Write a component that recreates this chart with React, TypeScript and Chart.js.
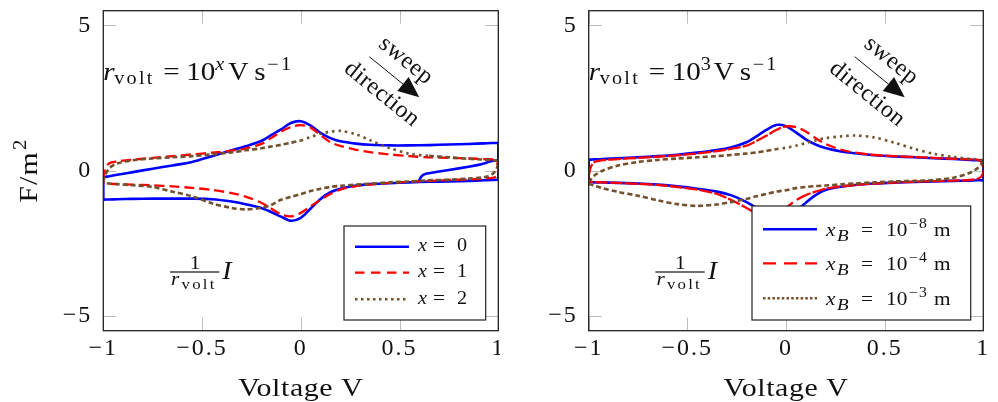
import { useEffect, useRef } from 'react';
import { Chart, registerables } from 'chart.js';

Chart.register(...registerables);

const SERIF = '"Liberation Serif", "Times New Roman", serif';
const BLUE = '#0000ff';
const RED = '#ff0000';
const BROWN = '#74512d';
const INK = '#111111';

// Voltage samples of one sweep (ascending). Reverse sweeps are stored on the same grid.
const sweepV = [-1, -0.99, -0.97, -0.93, -0.85, -0.75, -0.65, -0.55, -0.45, -0.35, -0.28, -0.2, -0.15, -0.1, -0.05, 0, 0.05, 0.1, 0.15, 0.2, 0.28, 0.35, 0.45, 0.55, 0.65, 0.75, 0.85, 0.93, 0.97, 0.99, 1];

const voltageTicks = [-1, -0.5, 0, 0.5, 1];
const currentTicks = [-5, 0, 5];
const currentMin = -5.5;
const currentMax = 5.5;

// Left panel: r_volt = 10^x V/s
const x0Forward = [-0.22, -0.21, -0.19, -0.14, -0.05, 0.07, 0.18, 0.3, 0.5, 0.7, 0.84, 1.02, 1.22, 1.42, 1.64, 1.7, 1.55, 1.3, 1.12, 1.01, 0.93, 0.89, 0.87, 0.87, 0.88, 0.9, 0.92, 0.94, 0.95, 0.95, 0.95];
const x0Reverse = [-0.99, -0.99, -0.99, -0.98, -0.97, -0.96, -0.96, -0.96, -0.98, -1.06, -1.15, -1.28, -1.42, -1.58, -1.72, -1.62, -1.3, -0.97, -0.74, -0.62, -0.51, -0.46, -0.43, -0.4, -0.38, -0.37, -0.35, -0.33, -0.32, -0.31, -0.31];
const x0StartV = [0.59, 0.6, 0.61, 0.63, 0.7, 0.8, 0.9, 1];
const x0StartI = [-0.39, -0.33, -0.2, -0.11, -0.03, 0.08, 0.2, 0.33];
const x1Forward = [-0.3, 0.08, 0.26, 0.32, 0.38, 0.44, 0.5, 0.56, 0.62, 0.69, 0.76, 0.92, 1.12, 1.34, 1.5, 1.57, 1.48, 1.22, 0.98, 0.85, 0.72, 0.64, 0.56, 0.5, 0.46, 0.44, 0.42, 0.4, 0.39, 0.32, 0.12];
const x1Reverse = [-0.43, -0.44, -0.45, -0.46, -0.48, -0.5, -0.54, -0.59, -0.66, -0.77, -0.89, -1.1, -1.3, -1.5, -1.57, -1.45, -1.22, -1.0, -0.8, -0.65, -0.53, -0.48, -0.42, -0.38, -0.35, -0.32, -0.3, -0.27, -0.25, -0.2, -0.02];
const x2Forward = [-0.38, -0.15, 0.08, 0.25, 0.36, 0.42, 0.46, 0.5, 0.56, 0.63, 0.7, 0.77, 0.83, 0.89, 0.96, 1.04, 1.16, 1.27, 1.34, 1.37, 1.25, 1.05, 0.78, 0.58, 0.51, 0.46, 0.41, 0.38, 0.36, 0.34, 0.32];
const x2Reverse = [-0.4, -0.42, -0.44, -0.46, -0.5, -0.56, -0.72, -0.88, -1.12, -1.28, -1.33, -1.28, -1.18, -1.0, -0.9, -0.8, -0.7, -0.62, -0.56, -0.52, -0.48, -0.45, -0.4, -0.37, -0.33, -0.31, -0.27, -0.22, -0.12, 0.05, 0.25];
const rateExponents = ['0', '1', '2'];

// Right panel: r_volt = 10^3 V/s, boundary position x_B
const b8Forward = [0.38, 0.38, 0.39, 0.4, 0.43, 0.46, 0.5, 0.55, 0.62, 0.71, 0.8, 0.98, 1.18, 1.4, 1.57, 1.53, 1.32, 1.08, 0.9, 0.78, 0.66, 0.6, 0.53, 0.49, 0.46, 0.43, 0.4, 0.37, 0.36, 0.35, 0.35];
const b8Reverse = [-0.39, -0.39, -0.4, -0.4, -0.42, -0.44, -0.48, -0.54, -0.62, -0.72, -0.84, -1.08, -1.28, -1.5, -1.65, -1.58, -1.4, -1.1, -0.84, -0.66, -0.55, -0.49, -0.44, -0.41, -0.39, -0.37, -0.35, -0.34, -0.33, -0.33, -0.33];
const b4Forward = [-0.2, 0.12, 0.3, 0.36, 0.4, 0.44, 0.48, 0.53, 0.59, 0.67, 0.75, 0.86, 1.02, 1.2, 1.4, 1.52, 1.5, 1.35, 1.12, 0.92, 0.72, 0.62, 0.54, 0.5, 0.47, 0.44, 0.41, 0.39, 0.38, 0.3, 0.1];
const b4Reverse = [-0.38, -0.38, -0.39, -0.4, -0.42, -0.45, -0.49, -0.56, -0.65, -0.8, -1.0, -1.28, -1.48, -1.63, -1.55, -1.28, -1.02, -0.84, -0.72, -0.62, -0.54, -0.49, -0.44, -0.41, -0.38, -0.36, -0.34, -0.32, -0.28, -0.2, -0.05];
const b3Forward = [-0.4, -0.3, -0.16, 0.0, 0.18, 0.3, 0.37, 0.42, 0.46, 0.5, 0.54, 0.59, 0.63, 0.68, 0.74, 0.79, 0.86, 0.95, 1.04, 1.12, 1.18, 1.21, 1.14, 0.96, 0.75, 0.58, 0.47, 0.41, 0.39, 0.37, 0.33];
const b3Reverse = [-0.45, -0.47, -0.52, -0.6, -0.73, -0.86, -1.02, -1.15, -1.21, -1.16, -1.08, -0.97, -0.88, -0.8, -0.72, -0.67, -0.6, -0.56, -0.53, -0.51, -0.47, -0.44, -0.4, -0.37, -0.35, -0.32, -0.24, -0.08, 0.08, 0.22, 0.3];
const boundaryExponents = ['−8', '−4', '−3'];

type Pt = { x: number; y: number };
type Run = { t: string; dx: number; size: number; it?: boolean; dy?: number; ls?: number };

const nFwd = sweepV.length;
const branch = (vals: number[]): Pt[] => sweepV.map((v, i) => ({ x: v, y: vals[i] }));

// forward sweep, then reverse sweep, back to the start
function closedCycle(fwd: number[], rev: number[]): Pt[] {
  const up = branch(fwd);
  const down = branch(rev).reverse();
  return [...up, ...down, up[0]];
}

// first partial scan from the starting potential, then the full cycle
function cycleWithStart(startV: number[], startI: number[], fwd: number[], rev: number[]): Pt[] {
  const start = startV.map((v, i) => ({ x: v, y: startI[i] }));
  const up = branch(fwd);
  const down = branch(rev).reverse();
  return [...start, ...down, ...up, down[0]];
}

function dashWhere(pts: Pt[], test: (v: number, forward: boolean) => boolean, inside: number[], outside: number[]) {
  return (ctx: any) => {
    const i = ctx.p0DataIndex;
    return test(pts[i].x, i < nFwd - 1) ? inside : outside;
  };
}

const fmt = (v: number) => String(v).replace('-', '−');

function drawRuns(ctx: any, x0: number, y0: number, runs: Run[], sx = 1.12) {
  for (const r of runs) {
    ctx.save();
    ctx.translate(x0 + r.dx, y0 + (r.dy ?? 0));
    ctx.scale(sx, 1);
    ctx.font = `${r.it ? 'italic ' : ''}${r.size}px ${SERIF}`;
    ctx.letterSpacing = `${r.ls ?? 0}px`;
    ctx.textAlign = 'left';
    ctx.textBaseline = 'alphabetic';
    ctx.fillStyle = INK;
    ctx.fillText(r.t, 0, 0);
    ctx.restore();
  }
}

function drawTurned(ctx: any, text: string, cx: number, cy: number, angle: number, size: number) {
  ctx.save();
  ctx.translate(cx, cy);
  ctx.rotate(angle);
  ctx.font = `${size}px ${SERIF}`;
  ctx.letterSpacing = '0.5px';
  ctx.textAlign = 'center';
  ctx.textBaseline = 'middle';
  ctx.fillStyle = INK;
  ctx.fillText(text, 0, 0);
  ctx.restore();
}

function rateRuns(sup: Run): Run[] {
  return [
    { t: 'r', dx: 0, size: 26, it: true },
    { t: 'volt', dx: 11, size: 18, dy: 4, ls: 2 },
    { t: '=', dx: 60, size: 26 },
    { t: '10', dx: 83, size: 26 },
    sup,
    { t: 'V', dx: 125, size: 25 },
    { t: 's', dx: 151, size: 26 },
    { t: '−1', dx: 164, size: 18, dy: -10, ls: 2 },
  ];
}

interface Series {
  pts: Pt[];
  color: string;
  width: number;
  dash: number[];
  seg?: (ctx: any) => number[];
  legendDash: number[];
}

interface PanelSpec {
  series: Series[];
  axisWidth: number;
  padRight: number;
  rate: Run[];
  legendW: number;
  legendH: number;
  legendRows: number[];
  legendBase: number;
  legendText: Run[][];
  yTitle: boolean;
}

function decor(spec: PanelSpec) {
  return {
    id: 'cvDecor',
    beforeDraw(chart: any) {
      chart.ctx.letterSpacing = '2px';
    },
    beforeDatasetsDraw(chart: any) {
      const { ctx, chartArea: a } = chart;
      const xs = chart.scales.x;
      const ys = chart.scales.y;
      ctx.save();
      ctx.strokeStyle = '#bdbdbd';
      ctx.lineWidth = 1;
      ctx.beginPath();
      for (const v of voltageTicks) {
        const px = Math.round(xs.getPixelForValue(v)) + 0.5;
        ctx.moveTo(px, a.top);
        ctx.lineTo(px, a.top + 13);
        ctx.moveTo(px, a.bottom);
        ctx.lineTo(px, a.bottom - 13);
      }
      for (const v of currentTicks) {
        const py = Math.round(ys.getPixelForValue(v)) + 0.5;
        ctx.moveTo(a.left, py);
        ctx.lineTo(a.left + 13, py);
        ctx.moveTo(a.right, py);
        ctx.lineTo(a.right - 13, py);
      }
      ctx.stroke();
      ctx.restore();
    },
    afterDatasetsDraw(chart: any) {
      const { ctx, chartArea: a } = chart;
      const ys = chart.scales.y;
      ctx.save();
      ctx.letterSpacing = '0px';

      // plot frame
      ctx.strokeStyle = '#222';
      ctx.lineWidth = 1.3;
      ctx.setLineDash([]);
      ctx.strokeRect(a.left, a.top, a.right - a.left, a.bottom - a.top);

      // scan rate label
      drawRuns(ctx, a.left, a.top + 69.3, spec.rate);

      // sweep direction arrow
      const sx0 = a.left + 266, sy0 = a.top + 46;
      const tx = a.left + 316, ty = a.top + 86.6;
      const ang = Math.atan2(ty - sy0, tx - sx0);
      const ux = Math.cos(ang), uy = Math.sin(ang);
      const headLen = 21, headHalf = 9;
      const bx = tx - ux * headLen, by = ty - uy * headLen;
      ctx.strokeStyle = INK;
      ctx.lineWidth = 1;
      ctx.beginPath();
      ctx.moveTo(sx0, sy0);
      ctx.lineTo(bx, by);
      ctx.stroke();
      ctx.fillStyle = INK;
      ctx.beginPath();
      ctx.moveTo(tx, ty);
      ctx.lineTo(bx - uy * headHalf, by + ux * headHalf);
      ctx.lineTo(bx + uy * headHalf, by - ux * headHalf);
      ctx.closePath();
      ctx.fill();
      drawTurned(ctx, 'sweep', a.left + 302.5, a.top + 50, ang, 24);
      drawTurned(ctx, 'direction', a.left + 278.5, a.top + 83.5, ang, 24);

      // (1 / r_volt) I
      const fx = a.left + 66.7, fy = a.top + 261.3, fw = 49.3;
      ctx.fillStyle = INK;
      ctx.fillRect(fx, fy - 0.6, fw, 1.2);
      drawRuns(ctx, fx + fw / 2 - 5, fy - 3.5, [{ t: '1', dx: 0, size: 19 }]);
      drawRuns(ctx, fx, fy + 13, [
        { t: 'r', dx: 1, size: 19, it: true },
        { t: 'volt', dx: 11.5, size: 15, dy: 3.5, ls: 2 },
      ]);
      drawRuns(ctx, fx + fw + 3, fy + 6.5, [{ t: 'I', dx: 0, size: 25, it: true }]);

      // legend
      const lx = a.right - 12.6 - spec.legendW;
      const ly = a.bottom - 10.7 - spec.legendH;
      ctx.fillStyle = '#ffffff';
      ctx.fillRect(lx, ly, spec.legendW, spec.legendH);
      ctx.strokeStyle = '#222';
      ctx.lineWidth = 1.2;
      ctx.strokeRect(lx, ly, spec.legendW, spec.legendH);
      spec.series.forEach((s, i) => {
        const ry = ly + spec.legendRows[i];
        ctx.strokeStyle = s.color;
        ctx.lineWidth = s.width;
        ctx.setLineDash(s.legendDash);
        ctx.beginPath();
        ctx.moveTo(lx + 11, ry);
        ctx.lineTo(lx + 65, ry);
        ctx.stroke();
        ctx.setLineDash([]);
        drawRuns(ctx, lx + 74, ry + spec.legendBase, spec.legendText[i]);
      });

      // axis titles
      ctx.save();
      ctx.translate(a.left + (a.right - a.left) / 2, a.bottom + 65.3);
      ctx.scale(1.15, 1);
      ctx.font = `26px ${SERIF}`;
      ctx.letterSpacing = '0.5px';
      ctx.textAlign = 'center';
      ctx.textBaseline = 'alphabetic';
      ctx.fillStyle = INK;
      ctx.fillText('Voltage V', 0, 0);
      ctx.restore();

      if (spec.yTitle) {
        ctx.save();
        ctx.translate(a.left - 66.3, ys.getPixelForValue(0));
        ctx.rotate(-Math.PI / 2);
        ctx.scale(1.15, 1);
        ctx.fillStyle = INK;
        ctx.textBaseline = 'alphabetic';
        ctx.font = `26px ${SERIF}`;
        ctx.letterSpacing = '1px';
        const w1 = ctx.measureText('F/m').width;
        ctx.font = `18px ${SERIF}`;
        const w2 = ctx.measureText('2').width;
        const x0 = -(w1 + w2 + 1) / 2;
        ctx.font = `26px ${SERIF}`;
        ctx.fillText('F/m', x0, 0);
        ctx.font = `18px ${SERIF}`;
        ctx.fillText('2', x0 + w1 + 1, -11);
        ctx.restore();
      }
      ctx.restore();
    },
  };
}

// keep the plot box where the layout puts it: no extra room for overhanging tick labels
function noOverhang(s: any) {
  s.paddingTop = 0;
  s.paddingBottom = 0;
  s.paddingLeft = 0;
  s.paddingRight = 0;
}

function buildChart(canvas: HTMLCanvasElement, spec: PanelSpec) {
  const datasets = spec.series.map((s, i) => ({
    data: s.pts,
    borderColor: s.color,
    borderWidth: s.width,
    borderDash: s.dash,
    segment: s.seg ? { borderDash: s.seg } : undefined,
    showLine: true,
    pointRadius: 0,
    pointHoverRadius: 0,
    tension: 0.3,
    fill: false,
    order: spec.series.length - i,
  }));
  const tickFont = { family: SERIF, size: 24 };
  return new Chart(canvas, {
    type: 'scatter',
    data: { datasets } as any,
    options: {
      animation: false,
      responsive: false,
      maintainAspectRatio: false,
      events: [],
      layout: { padding: { top: 10.7, right: spec.padRight, left: 0, bottom: 0 } },
      plugins: { legend: { display: false }, tooltip: { enabled: false } },
      scales: {
        x: {
          type: 'linear',
          min: -1,
          max: 1,
          grid: { display: false, drawTicks: false },
          border: { display: false },
          afterBuildTicks: (s: any) => {
            s.ticks = voltageTicks.map((v) => ({ value: v }));
          },
          afterFit: (s: any) => {
            s.height = 71.3;
            noOverhang(s);
          },
          ticks: {
            color: INK,
            padding: 4,
            font: tickFont,
            maxRotation: 0,
            autoSkip: false,
            callback: (v: any) => fmt(Number(v)),
          },
        },
        y: {
          type: 'linear',
          min: currentMin,
          max: currentMax,
          grid: { display: false, drawTicks: false },
          border: { display: false },
          afterBuildTicks: (s: any) => {
            s.ticks = currentTicks.map((v) => ({ value: v }));
          },
          afterFit: (s: any) => {
            s.width = spec.axisWidth;
            noOverhang(s);
          },
          ticks: {
            color: INK,
            padding: 11,
            font: tickFont,
            autoSkip: false,
            callback: (v: any) => fmt(Number(v)),
          },
        },
      },
    } as any,
    plugins: [decor(spec)],
  });
}

function leftSpec(): PanelSpec {
  const p2 = closedCycle(x2Forward, x2Reverse);
  return {
    series: [
      { pts: cycleWithStart(x0StartV, x0StartI, x0Forward, x0Reverse), color: BLUE, width: 2.6, dash: [], legendDash: [] },
      { pts: closedCycle(x1Forward, x1Reverse), color: RED, width: 2.3, dash: [10, 5], legendDash: [9.5, 6.5] },
      {
        pts: p2,
        color: BROWN,
        width: 2.6,
        dash: [5, 3],
        seg: dashWhere(p2, (v, fwd) => fwd && v >= 0 && v < 0.6, [2.5, 4], [5, 3]),
        legendDash: [2.5, 3.5],
      },
    ],
    axisWidth: 103.3,
    padRight: 1.7,
    rate: rateRuns({ t: 'x', dx: 112, size: 18, it: true, dy: -10 }),
    legendW: 141.7,
    legendH: 94,
    legendRows: [20.7, 46.7, 73.3],
    legendBase: 4.5,
    legendText: rateExponents.map((e) => [
      { t: 'x', dx: 0, size: 18, it: true },
      { t: '=', dx: 15, size: 19 },
      { t: e, dx: 39, size: 18 },
    ]),
    yTitle: true,
  };
}

function rightSpec(): PanelSpec {
  const p4 = closedCycle(b4Forward, b4Reverse);
  const p3 = closedCycle(b3Forward, b3Reverse);
  return {
    series: [
      { pts: closedCycle(b8Forward, b8Reverse), color: BLUE, width: 2.6, dash: [], legendDash: [] },
      {
        pts: p4,
        color: RED,
        width: 2.3,
        dash: [13, 2],
        seg: dashWhere(p4, (v, fwd) => (fwd && v >= -0.02 && v < 0.3) || (!fwd && v > -0.1 && v < 0.15), [10, 5], [13, 2]),
        legendDash: [13, 8],
      },
      {
        pts: p3,
        color: BROWN,
        width: 2.6,
        dash: [5, 3],
        seg: dashWhere(p3, (v, fwd) => fwd && v >= -0.05, [2.5, 4], [5, 3]),
        legendDash: [2.5, 2.2],
      },
    ],
    axisWidth: 88.7,
    padRight: 14.7,
    rate: rateRuns({ t: '3', dx: 112, size: 18, dy: -10 }),
    legendW: 218.7,
    legendH: 114,
    legendRows: [23.3, 57.3, 92.3],
    legendBase: 7,
    legendText: boundaryExponents.map((e) => [
      { t: 'x', dx: 0, size: 19, it: true },
      { t: 'B', dx: 11, size: 17, it: true, dy: 5 },
      { t: '=', dx: 35, size: 19 },
      { t: '10', dx: 60, size: 19 },
      { t: e, dx: 83, size: 14, dy: -8, ls: 1 },
      { t: 'm', dx: 108, size: 19 },
    ]),
    yTitle: false,
  };
}

function Panel({ make, left, width }: { make: () => PanelSpec; left: number; width: number }) {
  const ref = useRef<HTMLCanvasElement>(null);
  useEffect(() => {
    const chart = buildChart(ref.current as HTMLCanvasElement, make());
    return () => chart.destroy();
  }, [make]);
  return (
    <canvas
      ref={ref}
      width={width}
      height={402}
      style={{ position: 'absolute', left, top: 0, width, height: 402 }}
    />
  );
}

export default function App() {
  return (
    <div style={{ position: 'fixed', left: 0, top: 0, width: 998, height: 402, background: '#ffffff', overflow: 'hidden' }}>
      <Panel make={leftSpec} left={0} width={500} />
      <Panel make={rightSpec} left={500} width={498} />
    </div>
  );
}
